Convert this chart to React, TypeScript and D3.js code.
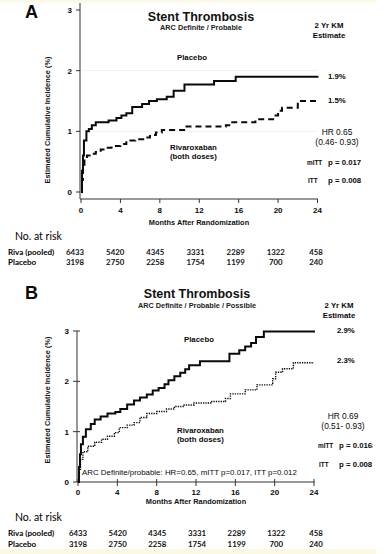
import React, { useEffect } from 'react';
import * as d3 from 'd3';

type Pt = [number, number];

// months / cumulative incidence (%)
const placeboA: Pt[] = [
  [0, 0], [0.1, 0.35], [0.2, 0.6], [0.3, 0.85], [0.55, 1.0], [0.8, 1.04], [1.1, 1.1], [1.5, 1.15],
  [2.8, 1.18], [3.6, 1.22], [4.1, 1.26], [4.6, 1.3], [5.2, 1.4], [6.2, 1.45], [6.9, 1.5],
  [7.7, 1.53], [8.7, 1.57], [9.4, 1.67], [10.5, 1.77], [13.5, 1.83], [15.7, 1.9], [24.1, 1.9],
];
const rivaA: Pt[] = [
  [0, 0], [0.1, 0.2], [0.2, 0.45], [0.35, 0.55], [0.6, 0.6], [1.0, 0.63], [1.5, 0.66], [2.0, 0.7],
  [2.6, 0.73], [3.1, 0.76], [4.0, 0.79], [4.6, 0.85], [5.5, 0.87], [6.5, 0.9], [7.0, 0.94],
  [7.6, 0.98], [8.2, 1.02], [10.6, 1.08], [14.7, 1.1], [15.2, 1.15], [17.7, 1.2], [19.5, 1.26],
  [20.0, 1.34], [20.4, 1.39], [22.0, 1.5], [24.1, 1.5],
];
const placeboB: Pt[] = [
  [0, 0], [0.1, 0.3], [0.2, 0.55], [0.3, 0.75], [0.5, 0.9], [0.8, 1.05], [1.3, 1.15], [1.7, 1.24],
  [2.3, 1.3], [3.0, 1.36], [3.8, 1.39], [4.3, 1.45], [5.0, 1.54], [5.7, 1.62], [6.3, 1.68],
  [7.0, 1.74], [7.6, 1.82], [8.2, 1.87], [8.8, 1.94], [9.2, 2.02], [9.8, 2.1], [10.4, 2.17],
  [10.9, 2.24], [11.3, 2.32], [12.4, 2.4], [15.4, 2.55], [16.4, 2.62], [17.0, 2.69], [17.6, 2.76],
  [18.1, 2.88], [18.9, 2.99], [24.1, 2.99],
];
const rivaB: Pt[] = [
  [0, 0], [0.1, 0.25], [0.25, 0.45], [0.5, 0.6], [1.0, 0.71], [1.7, 0.79], [2.4, 0.85], [3.0, 0.91],
  [3.7, 0.98], [4.2, 1.08], [5.0, 1.13], [5.7, 1.18], [6.3, 1.28], [7.0, 1.36], [8.0, 1.4],
  [9.0, 1.45], [9.8, 1.5], [10.8, 1.53], [11.8, 1.57], [13.5, 1.6], [15.0, 1.66], [15.5, 1.75],
  [17.0, 1.83], [18.2, 1.93], [19.8, 2.05], [20.1, 2.18], [20.8, 2.25], [21.9, 2.37], [24.0, 2.37],
];

const xTicks = [0, 4, 8, 12, 16, 20, 24];
const yTicks = [0, 1, 2, 3];
const riskRiva = ['6433', '5420', '4345', '3331', '2289', '1322', '458'];
const riskPlacebo = ['3198', '2750', '2258', '1754', '1199', '700', '240'];

const arial = '"Liberation Sans", Arial, sans-serif';
const calibri = 'Lato, "Open Sans", sans-serif';
const ink = '#0a0a0a';

interface PanelProps {
  letter: string;
  x0: number; x1: number; y0: number; y3: number;
  axisY: number;
  crossTicks: boolean;
  placebo: Pt[];
  riva: Pt[];
  rivaDash: string;
  rivaWidth: number;
  sub: string;
  riskX: [number, number];
  txt: {
    letterY: number; titleX: number; titleY: number; subY: number; kmX: number; kmY: number;
    plX: number; plY: number; plPctX: number; plPctY: number; rvPctY: number; rvX: number; rvY: number;
    hrX: number; hrY: number; mittX: number; pX: number; mittY: number; ittY: number;
    hr: string; ci: string; plPct: string; rvPct: string; pm: string; pi: string;
    tickY: number; labelY: number; labelX: number; noY: number; r1Y: number; r2Y: number; ytX: number; ytY: number;
  };
  note?: string;
  clipP?: number;
}

const Panel: React.FC<PanelProps> = (p) => {
  const x = d3.scaleLinear().domain([0, 24]).range([p.x0, p.x1]);
  const y = d3.scaleLinear().domain([0, 3]).range([p.y0, p.y3]);
  const rx = d3.scaleLinear().domain([0, 24]).range(p.riskX);
  const line = d3.line<Pt>().x((d) => x(d[0])).y((d) => y(d[1])).curve(d3.curveStepAfter);
  const t = p.txt;
  const axisLeft = p.x0 - 1;
  const clipId = `clip${p.letter}`;
  return (
    <g>
      {p.clipP && (
        <defs>
          <clipPath id={clipId}>
            <rect x={0} y={0} width={p.clipP} height={554} />
          </clipPath>
        </defs>
      )}
      <text x={25} y={t.letterY} fontFamily={arial} fontWeight="bold" fontSize={18} fill={ink}>{p.letter}</text>
      <text x={t.titleX} y={t.titleY} textAnchor="middle" fontFamily={arial} fontWeight="bold" fontSize={12.5} fill="#111">Stent Thrombosis</text>
      <text x={t.titleX} y={t.subY} textAnchor="middle" fontFamily={arial} fontWeight="bold" fontSize={7.3} fill="#222">{p.sub}</text>
      <text x={t.kmX} y={t.kmY} textAnchor="middle" fontFamily={arial} fontWeight="bold" fontSize={7.8} fill={ink}>2 Yr KM</text>
      <text x={t.kmX} y={t.kmY + 9.5} textAnchor="middle" fontFamily={arial} fontWeight="bold" fontSize={7.8} fill={ink}>Estimate</text>

      {/* grid */}
      {p.letter === 'A' && [1, 2].map((v) => (
        <line key={v} x1={axisLeft} x2={p.x1} y1={y(v)} y2={y(v)} stroke="#ececec" strokeWidth={0.8} />
      ))}

      {/* y axis */}
      <line x1={axisLeft} x2={axisLeft} y1={p.letter === 'A' ? 3 : y(3)} y2={p.axisY} stroke="#333" strokeWidth={1} />
      {yTicks.map((v) => (
        <g key={v}>
          <line x1={axisLeft - 4} x2={axisLeft + (p.crossTicks ? 3 : 0)} y1={y(v)} y2={y(v)} stroke="#333" strokeWidth={1} />
          <text x={axisLeft - 8} y={y(v) + 3} textAnchor="end" fontFamily={arial} fontWeight="bold" fontSize={8} fill={ink}>{v}</text>
        </g>
      ))}
      <text transform={`translate(${t.ytX},${t.ytY}) rotate(-90)`} textAnchor="middle" fontFamily={arial} fontWeight="bold" fontSize={7.4} fill="#111">Estimated Cumulative Incidence (%)</text>

      {/* x axis */}
      <line x1={axisLeft} x2={p.x1 + 0.5} y1={p.axisY} y2={p.axisY} stroke="#333" strokeWidth={1} />
      {xTicks.map((v) => (
        <g key={v}>
          <line x1={x(v)} x2={x(v)} y1={p.axisY - (p.crossTicks ? 3 : 0)} y2={p.axisY + 4} stroke="#333" strokeWidth={1} />
          <text x={x(v)} y={t.tickY} textAnchor="middle" fontFamily={arial} fontWeight="bold" fontSize={8} fill={ink}>{v}</text>
        </g>
      ))}
      <text x={t.labelX} y={t.labelY} textAnchor="middle" fontFamily={arial} fontWeight="bold" fontSize={7.4} fill="#111">Months After Randomization</text>

      {/* curves */}
      <path d={line(p.riva) ?? ''} fill="none" stroke={ink} strokeWidth={p.rivaWidth} strokeDasharray={p.rivaDash} />
      <path d={line(p.placebo) ?? ''} fill="none" stroke={ink} strokeWidth={2} />

      {/* labels */}
      <text x={t.plX} y={t.plY} fontFamily={arial} fontWeight="bold" fontSize={7.8} fill={ink}>Placebo</text>
      <text x={t.rvX} y={t.rvY} fontFamily={arial} fontWeight="bold" fontSize={7.8} fill={ink}>Rivaroxaban</text>
      <text x={t.rvX} y={t.rvY + 9} fontFamily={arial} fontWeight="bold" fontSize={7.8} fill={ink}>(both doses)</text>
      <text x={t.plPctX} y={t.plPctY} fontFamily={arial} fontWeight="bold" fontSize={7.8} fill={ink}>{t.plPct}</text>
      <text x={t.plPctX} y={t.rvPctY} fontFamily={arial} fontWeight="bold" fontSize={7.8} fill={ink}>{t.rvPct}</text>
      <text x={t.hrX} y={t.hrY} textAnchor="middle" fontFamily={arial} fontSize={8.4} fill={ink}>{t.hr}</text>
      <text x={t.hrX} y={t.hrY + 9.5} textAnchor="middle" fontFamily={arial} fontSize={8.4} fill={ink}>{t.ci}</text>
      <text x={t.mittX} y={t.mittY} fontFamily={arial} fontWeight="bold" fontSize={6.4} fill={ink}>mITT</text>
      <text x={t.pX} y={t.mittY} fontFamily={arial} fontWeight="bold" fontSize={7.8} fill={ink} clipPath={p.clipP ? `url(#${clipId})` : undefined}>{t.pm}</text>
      <text x={t.mittX + 1} y={t.ittY} fontFamily={arial} fontWeight="bold" fontSize={6.4} fill={ink}>ITT</text>
      <text x={t.pX} y={t.ittY} fontFamily={arial} fontWeight="bold" fontSize={7.8} fill={ink}>{t.pi}</text>
      {p.note && (
        <text x={82} y={475} fontFamily={arial} fontSize={7.9} fill={ink}>{p.note}</text>
      )}

      {/* risk table */}
      <text x={15} y={t.noY} fontFamily={calibri} fontSize={10.5} fill="#000">No. at risk</text>
      <text x={8} y={t.r1Y} fontFamily={calibri} fontWeight="bold" fontSize={8} fill="#000">Riva (pooled)</text>
      <text x={8} y={t.r2Y} fontFamily={calibri} fontWeight="bold" fontSize={8} fill="#000">Placebo</text>
      {xTicks.map((v, i) => (
        <g key={v}>
          <text x={rx(v)} y={t.r1Y} textAnchor="middle" fontFamily={calibri} fontWeight="bold" fontSize={7.8} fill="#111">{riskRiva[i]}</text>
          <text x={rx(v)} y={t.r2Y} textAnchor="middle" fontFamily={calibri} fontWeight="bold" fontSize={7.8} fill="#111">{riskPlacebo[i]}</text>
        </g>
      ))}
    </g>
  );
};

const App: React.FC = () => {
  useEffect(() => {
    document.body.style.margin = '0';
  }, []);
  return (
    <svg width={389} height={554} viewBox="0 0 389 554" style={{ display: 'block', background: '#fff' }}>
      <rect x={0} y={0} width={376} height={2.5} fill="#fbf8e3" />
      <rect x={0} y={549} width={376} height={5} fill="#fbf9e4" />
      <Panel
        letter="A"
        x0={81} x1={317.5} y0={192} y3={10} axisY={199}
        crossTicks={false}
        placebo={placeboA} riva={rivaA} rivaDash="6,4" rivaWidth={2}
        sub="ARC Definite / Probable"
        riskX={[75, 316]}
        txt={{
          letterY: 18, titleX: 201, titleY: 21, subY: 30, kmX: 329, kmY: 28,
          plX: 177, plY: 60, plPctX: 328, plPctY: 79, rvPctY: 103, rvX: 170, rvY: 150,
          hrX: 337, hrY: 135, mittX: 307, pX: 328, mittY: 165, ittY: 183,
          hr: 'HR 0.65', ci: '(0.46- 0.93)', plPct: '1.9%', rvPct: '1.5%', pm: 'p = 0.017', pi: 'p = 0.008',
          tickY: 213, labelY: 225, labelX: 199, noY: 240, r1Y: 255, r2Y: 265, ytX: 50, ytY: 120,
        }}
      />
      <Panel
        letter="B"
        x0={78} x1={314} y0={482} y3={331} axisY={482}
        crossTicks={true}
        placebo={placeboB} riva={rivaB} rivaDash="1.3,1.1" rivaWidth={1.4}
        sub="ARC Definite / Probable / Possible"
        riskX={[78, 316]}
        note="ARC Definite/probable: HR=0.65, mITT p=0.017, ITT p=0.012"
        clipP={373}
        txt={{
          letterY: 299, titleX: 197, titleY: 298, subY: 308, kmX: 339, kmY: 308,
          plX: 184, plY: 342, plPctX: 337, plPctY: 333, rvPctY: 363, rvX: 177, rvY: 433,
          hrX: 343, hrY: 419, mittX: 318, pX: 339, mittY: 448, ittY: 467,
          hr: 'HR 0.69', ci: '(0.51- 0.93)', plPct: '2.9%', rvPct: '2.3%', pm: 'p = 0.0168', pi: 'p = 0.008',
          tickY: 495, labelY: 504, labelX: 196, noY: 521, r1Y: 536, r2Y: 547, ytX: 50, ytY: 400,
        }}
      />
    </svg>
  );
};

export default App;
